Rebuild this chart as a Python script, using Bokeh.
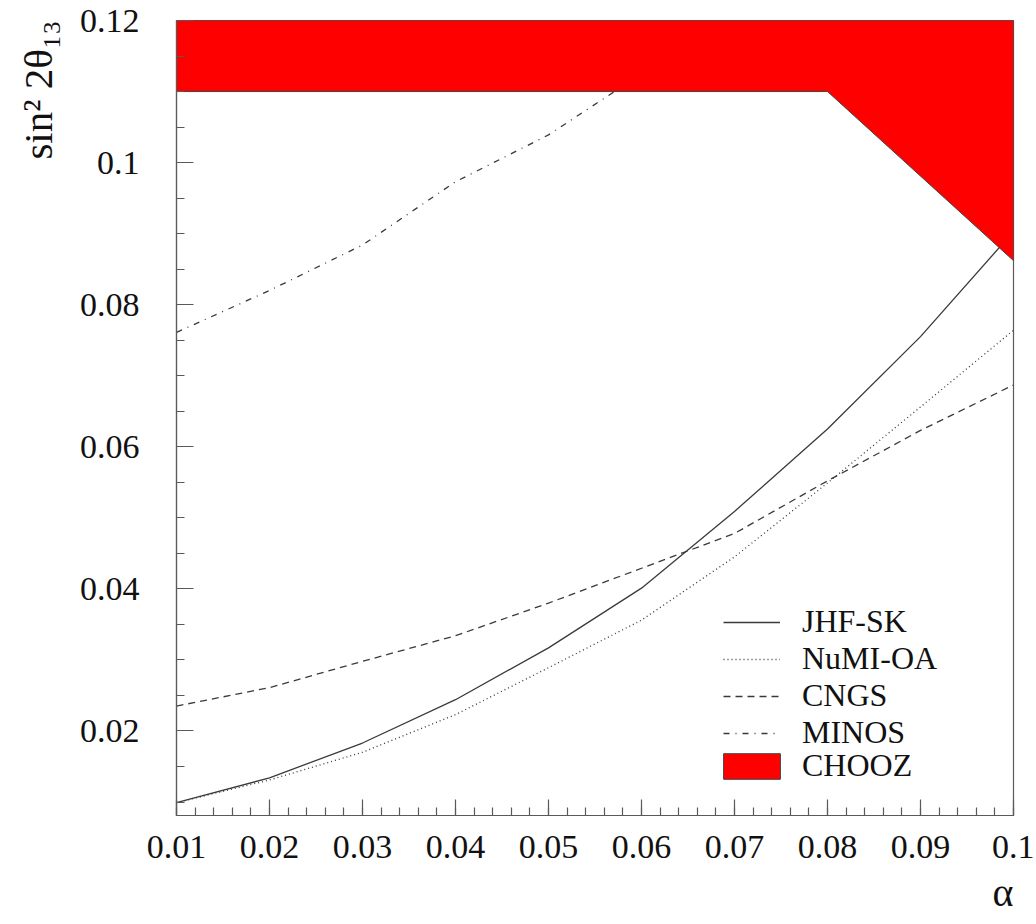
import numpy as np
from bokeh.plotting import figure
from bokeh.models import Range1d, FixedTicker, Legend, LegendItem, Title
from bokeh.embed import file_html
from bokeh.resources import INLINE

# ---- data ----
alpha = [0.01, 0.02, 0.03, 0.04, 0.05, 0.06, 0.07, 0.08, 0.09, 0.10]
jhf_sk = [0.0099, 0.0134, 0.0183, 0.0244, 0.0317, 0.0401, 0.0509, 0.0625, 0.0755, 0.0903]
numi_oa = [0.0099, 0.0131, 0.0170, 0.0223, 0.0289, 0.0356, 0.0445, 0.0549, 0.0656, 0.0764]
cngs = [0.0235, 0.0261, 0.0298, 0.0334, 0.0380, 0.0429, 0.0478, 0.0552, 0.0623, 0.0687]
minos_alpha = [0.01, 0.02, 0.03, 0.04, 0.05, 0.06]
minos = [0.0761, 0.0820, 0.0884, 0.0973, 0.1039, 0.1125]
chooz_alpha = [0.01, 0.08, 0.10]
chooz_limit = [0.110, 0.110, 0.0862]
chooz_top = 0.12

x_ticks = [0.01, 0.02, 0.03, 0.04, 0.05, 0.06, 0.07, 0.08, 0.09, 0.1]
x_tick_labels = ["0.01", "0.02", "0.03", "0.04", "0.05", "0.06", "0.07", "0.08", "0.09", "0.1"]
y_ticks = [0.02, 0.04, 0.06, 0.08, 0.1, 0.12]
y_tick_labels = ["0.02", "0.04", "0.06", "0.08", "0.1", "0.12"]

FONT = "Liberation Serif"
AX = "#5a5a5a"
LC = "#3a3a3a"

p = figure(width=1034, height=922, output_backend="svg", toolbar_location=None,
           x_range=Range1d(0.01, 0.1), y_range=Range1d(0.0081, 0.12),
           min_border_left=176, min_border_right=21, min_border_top=20, min_border_bottom=107)
p.background_fill_color = "white"
p.border_fill_color = "white"
p.outline_line_color = AX
p.outline_line_width = 1.2
p.grid.visible = False

x_minor = [round(v, 4) for v in np.arange(0.01, 0.1001, 0.002)]
y_minor = [round(v, 4) for v in np.arange(0.01, 0.1201, 0.005)]
p.xaxis.ticker = FixedTicker(ticks=x_ticks, minor_ticks=x_minor)
p.yaxis.ticker = FixedTicker(ticks=y_ticks, minor_ticks=y_minor)
p.xaxis.major_label_overrides = dict(zip(x_ticks, x_tick_labels))
p.yaxis.major_label_overrides = dict(zip(y_ticks, y_tick_labels))

for ax in (p.xaxis[0], p.yaxis[0]):
    ax.axis_line_color = AX
    ax.axis_line_width = 1.2
    ax.major_tick_line_color = AX
    ax.minor_tick_line_color = AX
    ax.major_tick_line_width = 1.2
    ax.minor_tick_line_width = 1.2
    ax.major_tick_out = 0
    ax.minor_tick_out = 0
    ax.major_label_text_font = FONT
    ax.major_label_text_font_size = "34px"
    ax.major_label_text_color = "#111111"
p.xaxis.major_tick_in = 16
p.xaxis.minor_tick_in = 8
p.yaxis.major_tick_in = 17
p.yaxis.minor_tick_in = 8
p.xaxis.major_label_standoff = 20
p.yaxis.major_label_standoff = 37

r_jhf = p.line(alpha, jhf_sk, line_color=LC, line_width=1.3)
r_numi = p.line(alpha, numi_oa, line_color=LC, line_width=1.3, line_dash="1 3")
r_cngs = p.line(alpha, cngs, line_color=LC, line_width=1.3, line_dash="7 5")
r_minos = p.line(minos_alpha, minos, line_color=LC, line_width=1.3, line_dash="6 6 1 6")

cx = chooz_alpha + chooz_alpha[::-1]
cy = chooz_limit + [chooz_top] * len(chooz_alpha)
r_chooz = p.patch(cx, cy, fill_color="#ff0000", line_color="#444444", line_width=1.0)

leg1 = Legend(items=[LegendItem(label="JHF-SK", renderers=[r_jhf]),
                     LegendItem(label="NuMI-OA", renderers=[r_numi]),
                     LegendItem(label="CNGS", renderers=[r_cngs]),
                     LegendItem(label="MINOS", renderers=[r_minos])],
              location=(547, 64), glyph_width=57, glyph_height=36, label_height=36,
              spacing=0, padding=0, margin=0, label_standoff=22,
              border_line_color=None, background_fill_alpha=0,
              label_text_font=FONT, label_text_font_size="32px", label_text_color="#111111")
leg2 = Legend(items=[LegendItem(label="CHOOZ", renderers=[r_chooz])],
              location=(540, 31), glyph_width=71, glyph_height=32, label_height=36,
              spacing=0, padding=0, margin=0, label_standoff=15,
              border_line_color=None, background_fill_alpha=0,
              label_text_font=FONT, label_text_font_size="32px", label_text_color="#111111")
p.add_layout(leg1, "center")
p.add_layout(leg2, "center")

ytitle = Title(text="sin² 2θ₁₃", align="right", vertical_align="top", text_font=FONT,
               text_font_size="41px", text_font_style="normal", text_color="#111111",
               standoff=27)
p.add_layout(ytitle, "left")
xtitle = Title(text="α", align="right", text_font=FONT, text_font_size="40px",
               text_font_style="normal", text_color="#111111", standoff=14)
p.add_layout(xtitle, "below")

open("out.html", "w").write(file_html(p, INLINE))
